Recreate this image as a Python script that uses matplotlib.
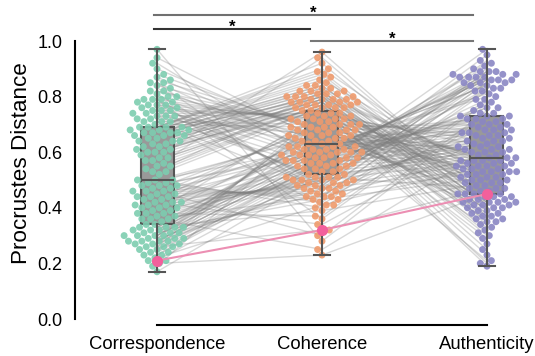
import numpy as np
import pandas as pd
import matplotlib
matplotlib.use('Agg')
from matplotlib import pyplot as plt
import seaborn as sns

conds = ['Correspondence', 'Coherence', 'Authenticity']

# participant 0 is the highlighted one (pink)
correspondence = [0.21,
    0.17, 0.52, 0.35, 0.70, 0.19, 0.71, 0.53, 0.36,
    0.71, 0.21, 0.54, 0.36, 0.72, 0.37, 0.22, 0.55,
    0.23, 0.56, 0.37, 0.72, 0.24, 0.73, 0.57, 0.38,
    0.73, 0.24, 0.58, 0.38, 0.74, 0.39, 0.25, 0.59,
    0.25, 0.60, 0.39, 0.74, 0.26, 0.75, 0.60, 0.40,
    0.75, 0.26, 0.61, 0.40, 0.76, 0.41, 0.27, 0.62,
    0.27, 0.62, 0.41, 0.76, 0.27, 0.77, 0.63, 0.42,
    0.77, 0.28, 0.63, 0.42, 0.78, 0.43, 0.28, 0.64,
    0.28, 0.64, 0.43, 0.78, 0.29, 0.79, 0.65, 0.44,
    0.79, 0.29, 0.65, 0.44, 0.80, 0.45, 0.29, 0.66,
    0.30, 0.66, 0.45, 0.80, 0.30, 0.81, 0.66, 0.46,
    0.82, 0.30, 0.67, 0.46, 0.83, 0.47, 0.31, 0.67,
    0.31, 0.67, 0.47, 0.84, 0.31, 0.85, 0.68, 0.48,
    0.86, 0.32, 0.68, 0.48, 0.87, 0.49, 0.32, 0.68,
    0.32, 0.69, 0.49, 0.88, 0.33, 0.71, 0.69, 0.50,
    0.73, 0.33, 0.69, 0.50, 0.75, 0.50, 0.33, 0.69,
    0.33, 0.55, 0.38, 0.77, 0.34, 0.79, 0.58, 0.40,
    0.90, 0.34, 0.61, 0.42, 0.92, 0.44, 0.26, 0.64,
    0.28, 0.67, 0.46, 0.94, 0.30, 0.97, 0.53, 0.48,
    0.82, 0.23, 0.57, 0.36, 0.85, 0.41, 0.20, 0.60]

coherence = [0.32,
    0.52, 0.75, 0.50, 0.69, 0.72, 0.47, 0.76, 0.53,
    0.70, 0.53, 0.76, 0.44, 0.54, 0.68, 0.41, 0.76,
    0.54, 0.77, 0.52, 0.66, 0.75, 0.51, 0.77, 0.55,
    0.74, 0.55, 0.77, 0.51, 0.55, 0.74, 0.51, 0.78,
    0.56, 0.78, 0.51, 0.74, 0.73, 0.50, 0.78, 0.56,
    0.73, 0.56, 0.79, 0.50, 0.57, 0.73, 0.50, 0.79,
    0.57, 0.79, 0.49, 0.72, 0.72, 0.49, 0.80, 0.57,
    0.72, 0.58, 0.80, 0.49, 0.58, 0.71, 0.48, 0.80,
    0.58, 0.81, 0.48, 0.71, 0.71, 0.48, 0.81, 0.59,
    0.70, 0.59, 0.81, 0.47, 0.59, 0.70, 0.47, 0.82,
    0.60, 0.82, 0.46, 0.70, 0.69, 0.46, 0.83, 0.60,
    0.69, 0.60, 0.83, 0.45, 0.60, 0.69, 0.45, 0.84,
    0.61, 0.84, 0.44, 0.68, 0.68, 0.44, 0.85, 0.61,
    0.68, 0.61, 0.86, 0.43, 0.61, 0.67, 0.43, 0.87,
    0.62, 0.88, 0.42, 0.67, 0.67, 0.41, 0.89, 0.62,
    0.66, 0.62, 0.90, 0.40, 0.62, 0.66, 0.39, 0.92,
    0.63, 0.94, 0.37, 0.66, 0.65, 0.36, 0.96, 0.63,
    0.65, 0.54, 0.76, 0.34, 0.56, 0.65, 0.32, 0.78,
    0.58, 0.80, 0.30, 0.64, 0.64, 0.28, 0.82, 0.60,
    0.64, 0.57, 0.77, 0.25, 0.59, 0.63, 0.23, 0.79]

authenticity = [0.45,
    0.58, 0.19, 0.83, 0.52, 0.50, 0.89, 0.20, 0.59,
    0.21, 0.87, 0.57, 0.59, 0.85, 0.60, 0.55, 0.23,
    0.60, 0.25, 0.82, 0.53, 0.51, 0.79, 0.27, 0.61,
    0.29, 0.76, 0.49, 0.61, 0.97, 0.62, 0.47, 0.30,
    0.62, 0.31, 0.95, 0.58, 0.58, 0.93, 0.32, 0.63,
    0.33, 0.92, 0.57, 0.63, 0.91, 0.64, 0.57, 0.34,
    0.64, 0.35, 0.90, 0.57, 0.56, 0.89, 0.35, 0.65,
    0.36, 0.89, 0.56, 0.65, 0.88, 0.66, 0.56, 0.37,
    0.66, 0.37, 0.88, 0.55, 0.55, 0.88, 0.38, 0.67,
    0.38, 0.87, 0.55, 0.67, 0.87, 0.68, 0.54, 0.39,
    0.68, 0.39, 0.87, 0.54, 0.54, 0.86, 0.40, 0.69,
    0.40, 0.86, 0.53, 0.69, 0.86, 0.70, 0.53, 0.41,
    0.70, 0.41, 0.85, 0.53, 0.52, 0.85, 0.41, 0.71,
    0.42, 0.84, 0.52, 0.71, 0.84, 0.72, 0.51, 0.42,
    0.72, 0.42, 0.83, 0.51, 0.50, 0.82, 0.43, 0.73,
    0.43, 0.81, 0.50, 0.73, 0.80, 0.60, 0.49, 0.43,
    0.62, 0.44, 0.79, 0.49, 0.48, 0.78, 0.44, 0.64,
    0.44, 0.77, 0.48, 0.66, 0.76, 0.68, 0.47, 0.45,
    0.70, 0.45, 0.75, 0.47, 0.46, 0.74, 0.36, 0.72,
    0.40, 0.74, 0.46, 0.61, 0.73, 0.67, 0.45, 0.42]

colors = ['#7dcdb0', '#ef9a6c', '#8a86c4']
pink = '#f2609c'

plt.rcParams['font.family'] = ['Liberation Sans', 'DejaVu Sans']

data = [correspondence, coherence, authenticity]
df = pd.DataFrame({'cond': np.repeat(conds, len(correspondence)),
                   'dist': np.concatenate(data)})

fig = plt.figure(figsize=(5.35, 3.56), dpi=100)
ax = fig.add_axes([75/535, 37/356, 460/535, 1.12*278/356])

# paired lines
for i in range(1, len(correspondence)):
    ax.plot([0, 1, 2], [correspondence[i], coherence[i], authenticity[i]],
            color='gray', alpha=0.3, lw=1, zorder=1)

bp = ax.boxplot(data, positions=[0, 1, 2], widths=0.2, patch_artist=True,
                showfliers=False, zorder=2)
for b in bp['boxes']:
    b.set_facecolor('#999999')
    b.set_edgecolor('#555555')
    b.set_linewidth(1.5)
for k in ['whiskers', 'caps', 'medians']:
    for l in bp[k]:
        l.set_color('#555555')
        l.set_linewidth(1.5)
        l.set_zorder(4)

sns.swarmplot(data=df, x='cond', y='dist', hue='cond', palette=colors,
              size=5, ax=ax, legend=False, zorder=3, alpha=0.9)

# highlighted participant
ax.plot([0, 1, 2], [correspondence[0], coherence[0], authenticity[0]],
        color='#ec8fb3', lw=1.5, zorder=5)
ax.plot([0, 1, 2], [correspondence[0], coherence[0], authenticity[0]],
        'o', color=pink, ms=7, zorder=6)

# significance bars
bars = [(-0.02, 1.915, 1.094, '#707070'),
        (-0.02, 0.93, 1.043, '#333333'),
        (0.935, 1.915, 1.0, '#777777')]
for x0, x1, y, c in bars:
    ax.plot([x0, x1], [y, y], color=c, lw=1.5, clip_on=False)
    ax.text((x0 + x1) / 2, y - 0.02, '*', ha='center', va='bottom',
            fontsize=12, fontweight='bold')

ax.set_xlim(-0.497, 2.291)
ax.set_ylim(0, 1.12)
ax.set_yticks([0, 0.2, 0.4, 0.6, 0.8, 1.0])
ax.set_yticklabels(['0.0', '0.2', '0.4', '0.6', '0.8', '1.0'])
ax.set_xticks([0, 1, 2])
ax.set_xticklabels(conds)
ax.tick_params(axis='both', length=0)
ax.tick_params(axis='y', pad=9, labelsize=13)
ax.tick_params(axis='x', pad=8, labelsize=13.3)
ax.set_xlabel('')
ax.set_ylabel('Procrustes Distance', fontsize=16.2, labelpad=4)

for s in ['top', 'right']:
    ax.spines[s].set_visible(False)
ax.spines['left'].set_bounds(0, 1)
ax.spines['bottom'].set_bounds(0, 2)
ax.spines['bottom'].set_position(('outward', 4))
ax.spines['left'].set_linewidth(1.5)
ax.spines['bottom'].set_linewidth(1.5)

fig.savefig('out.png', dpi=100)
